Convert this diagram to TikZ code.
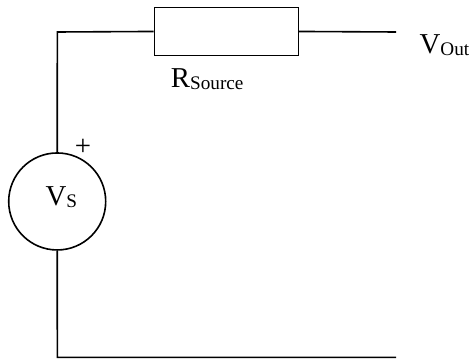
\documentclass[tikz,border=0pt]{standalone}
\usepackage{fontspec}
\setmainfont{Liberation Serif}
\tikzset{
	wire/.style={line width=1.2pt},
	part/.style={draw,line width=1.2pt,inner sep=0pt},
	sublabel/.style={anchor=base west,inner sep=0pt,font=\fontsize{21.6}{21.6}\selectfont}
}
\newcommand{\lowtext}[1]{\raisebox{-0.15ex}{\fontsize{14.4}{14.4}\selectfont #1}}
\begin{document}
\begin{tikzpicture}[x=1pt,y=-1pt]
\useasboundingbox (0,0) rectangle (352.5,272.25);
\path
	(43,24) coordinate (topleft)
	(43,268) coordinate (botleft)
	(297,24) coordinate (vout)
	(297,268) coordinate (botright);
\node [part,minimum width=108pt,minimum height=36pt] (rsource) at (169.8,23.6) {};
\node [part,circle,minimum size=72.75pt] (vs) at (42.9,151.1) {};
\draw [wire] (vs.north) -- (topleft) -- (rsource.west);
\draw [wire] (rsource.east) -- (vout);
\draw [wire] (vs.south) -- (botleft) -- (botright);
\node [sublabel] (vslabel) at (34,154) {V\lowtext{S}};
\node [sublabel] (plus) at (56,116.5) {+};
\node [sublabel] (rlabel) at (128,66) {R\lowtext{Source}};
\node [sublabel] (voutlabel) at (314.5,40) {V\lowtext{Out}};
\end{tikzpicture}
\end{document}
